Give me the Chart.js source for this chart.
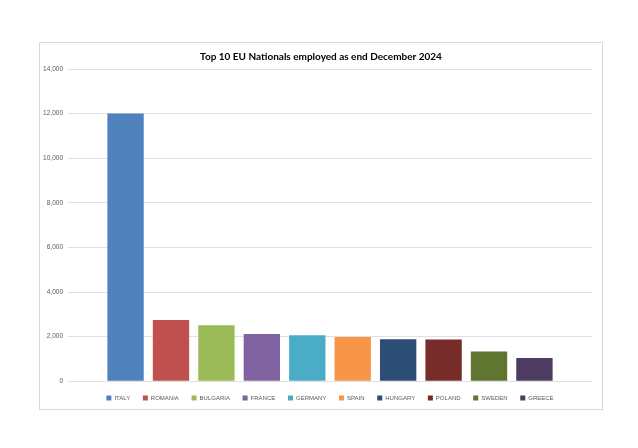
<!DOCTYPE html>
<html>
<head>
<meta charset="utf-8">
<script src="https://cdn.jsdelivr.net/npm/chart.js@4/dist/chart.umd.min.js"></script>
<style>
  html, body { margin: 0; padding: 0; background: #ffffff; }
  #box { position: absolute; left: 39px; top: 42px; width: 562px; height: 366px; border: 1px solid #d9d9d9; background: #fff; }
  #c { position: absolute; left: 40px; top: 43px; display: block; }
</style>
</head>
<body>
<div id="box"></div>
<canvas id="c" width="562" height="370"></canvas>
<script>
const countries = ['ITALY', 'ROMANIA', 'BULGARIA', 'FRANCE', 'GERMANY', 'SPAIN', 'HUNGARY', 'POLAND', 'SWEDEN', 'GREECE'];
const employed = [12000, 2750, 2510, 2120, 2060, 1985, 1880, 1875, 1340, 1045];
const colors = ['#4F81BD', '#C0504D', '#9BBB59', '#8064A2', '#4BACC6', '#F79646', '#2C4D75', '#772C2A', '#5F7530', '#4D3B62'];
const yTicks = [0, 2000, 4000, 6000, 8000, 10000, 12000, 14000];
const titleText = 'Top 10 EU Nationals employed as end December 2024';

const datasets = countries.map((name, i) => ({
  label: name,
  data: [employed[i]],
  backgroundColor: colors[i],
  borderWidth: 0,
  categoryPercentage: 0.867,
  barPercentage: 0.80
}));

// fine placement of the centred title and legend, as in the reference
const placeBoxes = {
  id: 'placeBoxes',
  beforeLayout(chart) {
    const lg = chart.legend;
    if (lg && !lg._trimmed) {
      const origFit = lg.fit;
      lg.fit = function () { origFit.call(this); this.height = Math.max(0, this.height - 5); };
      lg._trimmed = true;
    }
  },
  afterLayout(chart) {
    const lg = chart.legend;
    if (lg) { lg.left += 14; lg.right += 14; lg.top -= 7; lg.bottom -= 7; }
    if (chart.titleBlock) { chart.titleBlock.left += 5; chart.titleBlock.right += 5; }
  }
};

new Chart(document.getElementById('c'), {
  type: 'bar',
  data: { labels: [''], datasets },
  plugins: [placeBoxes],
  options: {
    responsive: false,
    animation: false,
    layout: { padding: { left: 0, right: 10, top: 0, bottom: 0 } },
    plugins: {
      tooltip: { enabled: false },
      title: {
        display: true,
        text: titleText,
        color: '#000000',
        font: { family: 'Lato', size: 10, weight: 'bold' },
        padding: { top: 8, bottom: 6 }
      },
      legend: {
        position: 'bottom',
        labels: {
          boxWidth: 5,
          boxHeight: 5,
          padding: 12.7,
          color: '#595959',
          font: { family: 'Liberation Sans', size: 6 }
        }
      }
    },
    scales: {
      x: {
        ticks: { display: false },
        grid: { display: false },
        border: { display: false }
      },
      y: {
        min: 0,
        max: 14000,
        afterBuildTicks: (axis) => { axis.ticks = yTicks.map(v => ({ value: v })); },
        afterFit: (axis) => { axis.width = 28; },
        ticks: {
          padding: 5,
          color: '#595959',
          font: { family: 'Liberation Sans', size: 6.5 },
          callback: (v) => v.toLocaleString('en-US')
        },
        grid: { color: '#e0e0e0', drawTicks: false },
        border: { display: false }
      }
    }
  }
});
</script>
</body>
</html>
